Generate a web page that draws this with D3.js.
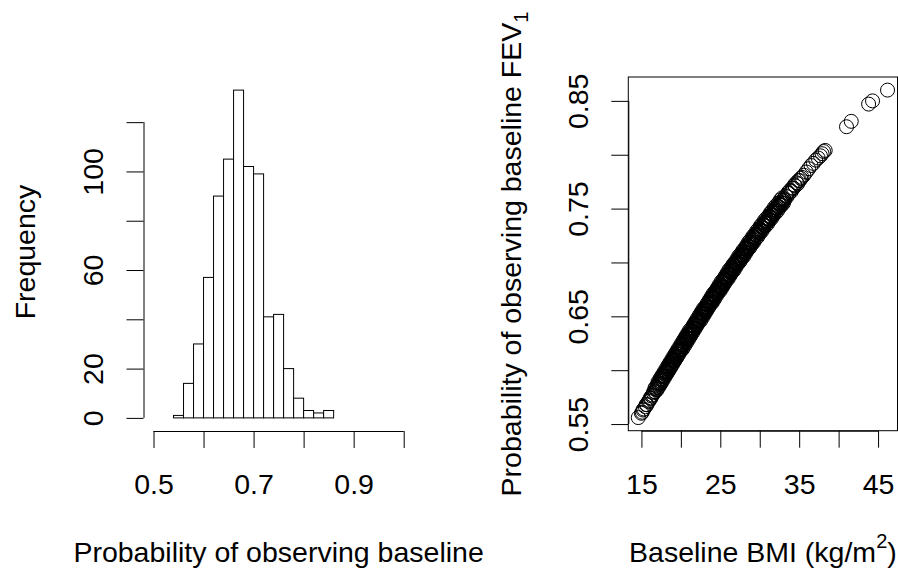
<!DOCTYPE html>
<html>
<head>
<meta charset="utf-8">
<script src="https://cdn.jsdelivr.net/npm/d3@7"></script>
<style>
  body { margin: 0; background: #fff; }
  text { font-family: "Liberation Sans", Arial, sans-serif; font-size: 28.5px; fill: #000; }
</style>
</head>
<body>
<div id="chart"></div>
<script>
// histogram of the probabilities
const histBreaks = [0.54, 0.56, 0.58, 0.60, 0.62, 0.64, 0.66, 0.68, 0.70, 0.72, 0.74, 0.76, 0.78, 0.80, 0.82, 0.84, 0.86];
const histCounts = [1, 14, 30, 57, 90, 105, 133, 102, 99, 41, 42, 20, 8, 3, 2, 3];
const probTicks = [0.5, 0.6, 0.7, 0.8, 0.9, 1.0];
const probLabels = [0.5, 0.7, 0.9];
const freqTicks = [0, 20, 40, 60, 80, 100, 120];
const freqLabels = [0, 20, 60, 100];

// scatter: baseline BMI vs probability
const bmiTicks = [15, 20, 25, 30, 35, 40, 45];
const bmiLabels = [15, 25, 35, 45];
const fevTicks = [0.55, 0.60, 0.65, 0.70, 0.75, 0.80, 0.85];
const fevLabels = [0.55, 0.65, 0.75, 0.85];
const bmiProb = [
  [14.6,.556],
  [15.0,.560],[15.1,.561],[15.2,.563],[15.3,.564],[15.5,.566],[15.6,.568],[15.7,.568],[15.9,.571],[16.0,.572],[16.1,.574],[16.2,.574],[16.3,.576],[16.4,.577],[16.5,.579],
  [16.6,.580],[16.7,.583],[16.75,.580],[16.8,.584],[16.9,.582],[17.0,.586],[17.05,.584],[17.1,.587],[17.2,.588],[17.3,.587],[17.35,.590],[17.4,.588],[17.5,.592],[17.6,.591],[17.65,.594],[17.7,.592],[17.8,.595],[17.9,.594],[18.0,.598],[18.05,.596],[18.1,.599],[18.2,.598],
  [18.3,.601],[18.35,.599],[18.4,.603],[18.45,.601],[18.5,.604],[18.6,.602],[18.65,.606],[18.7,.604],[18.8,.607],[18.85,.605],[18.9,.609],[19.0,.608],[19.05,.611],[19.1,.609],[19.2,.612],[19.25,.610],[19.3,.614],[19.4,.612],[19.45,.615],[19.5,.613],[19.6,.617],[19.65,.615],[19.7,.618],[19.8,.617],[19.85,.619],[19.9,.618],
  [19.95,.620],[20.0,.622],[20.05,.620],[20.1,.623],[20.2,.622],[20.25,.625],[20.3,.623],[20.35,.626],[20.4,.624],[20.5,.628],[20.55,.626],[20.6,.629],[20.65,.627],[20.7,.630],[20.8,.629],[20.85,.632],[20.9,.630],[20.95,.633],[21.0,.632],[21.1,.635],[21.15,.633],[21.2,.636],[21.3,.634],[21.35,.637],[21.4,.636],[21.5,.639],[21.55,.637],[21.6,.639],
  [21.7,.641],[21.75,.640],[21.8,.643],[21.9,.642],[21.95,.645],[22.0,.643],[22.1,.646],[22.15,.644],[22.2,.647],[22.3,.646],[22.35,.649],[22.4,.647],[22.5,.651],[22.55,.649],[22.6,.652],[22.65,.650],[22.7,.653],[22.8,.652],[22.85,.655],[22.9,.653],[23.0,.656],[23.05,.655],[23.1,.657],[23.15,.656],[23.2,.659],[23.3,.657],[23.35,.659],[23.4,.658],
  [23.45,.661],[23.5,.662],[23.55,.660],[23.6,.663],[23.7,.662],[23.75,.665],[23.8,.663],[23.85,.666],[23.9,.664],[24.0,.668],[24.05,.666],[24.1,.669],[24.15,.667],[24.2,.670],[24.3,.669],[24.35,.672],[24.4,.670],[24.45,.673],[24.5,.671],[24.6,.674],[24.65,.672],[24.7,.675],[24.75,.674],[24.8,.677],[24.9,.675],[24.95,.678],[25.0,.676],[25.05,.679],[25.1,.677],[25.2,.679],
  [25.3,.681],[25.35,.682],[25.4,.680],[25.5,.684],[25.55,.682],[25.6,.685],[25.7,.684],[25.75,.687],[25.8,.685],[25.9,.688],[25.95,.686],[26.0,.689],[26.1,.688],[26.15,.691],[26.2,.689],[26.3,.692],[26.35,.690],[26.4,.694],[26.5,.692],[26.55,.695],[26.6,.693],[26.7,.697],[26.75,.695],[26.8,.698],[26.85,.696],[26.9,.699],[27.0,.698],[27.05,.699],
  [27.1,.701],[27.2,.700],[27.25,.703],[27.3,.701],[27.4,.704],[27.5,.703],[27.55,.706],[27.6,.704],[27.7,.707],[27.8,.706],[27.85,.709],[27.9,.707],[28.0,.710],[28.1,.709],[28.15,.712],[28.2,.710],[28.3,.714],[28.35,.712],[28.4,.715],[28.5,.713],[28.6,.717],[28.65,.715],[28.7,.718],[28.8,.716],[28.85,.719],[28.9,.718],[28.95,.719],[29.0,.718],
  [29.1,.722],[29.2,.721],[29.3,.724],[29.4,.723],[29.5,.726],[29.6,.725],[29.7,.728],[29.75,.726],[29.85,.729],[29.95,.728],[30.05,.731],[30.15,.730],[30.25,.733],[30.35,.732],[30.45,.735],[30.55,.734],[30.6,.737],[30.7,.736],[30.8,.738],[30.85,.737],[30.95,.739],[31.0,.738],
  [31.1,.741],[31.2,.740],[31.3,.743],[31.4,.742],[31.5,.745],[31.6,.744],[31.7,.747],[31.8,.746],[31.9,.749],[32.0,.748],[32.1,.751],[32.2,.750],[32.3,.752],[32.4,.752],[32.5,.754],[32.6,.753],[32.7,.756],[32.8,.755],[32.9,.758],[33.0,.757],[33.05,.759],[33.15,.758],
  [33.3,.762],[33.45,.761],[33.6,.765],[33.7,.764],[33.85,.767],[34.0,.766],[34.1,.769],[34.25,.769],[34.4,.772],[34.5,.771],[34.65,.774],[34.8,.773],[34.9,.776],[35.05,.776],[35.2,.778],[35.35,.779],
  [35.6,.781],[35.9,.784],[36.2,.787],[36.5,.790],[36.8,.792],[37.1,.795],[37.4,.797],[37.7,.799],
  [37.9,.801],[38.1,.803],[38.3,.804],
  [41.0,.826],[41.6,.831],
  [43.8,.847],[44.3,.850],[46.2,.860],
  // upper edge of the band
  [17.1,.589],[17.35,.592],[17.6,.595],[17.85,.598],[18.1,.601],[18.35,.604],[18.6,.607],[18.85,.610],[19.1,.613],[19.35,.616],[19.6,.619],[19.85,.622],
  [20.1,.625],[20.35,.628],[20.6,.631],[20.85,.634],[21.1,.637],[21.35,.639],[21.6,.642],[21.85,.645],[22.1,.648],[22.35,.651],[22.6,.654],[22.85,.657],
  [23.1,.659],[23.35,.662],[23.6,.665],[23.85,.668],[24.1,.671],[24.35,.673],[24.6,.676],[24.85,.679],[25.1,.682],[25.35,.684],[25.6,.687],[25.85,.690],
  [26.1,.693],[26.35,.695],[26.6,.698],[26.85,.700],[27.1,.703],[27.35,.706],[27.6,.708],[27.85,.711],[28.1,.713],[28.35,.716],[28.6,.719],[28.85,.721],
  [29.1,.724],[29.35,.726],[29.6,.729],[29.85,.731],[30.1,.734],[30.35,.736],[30.6,.739],[30.85,.741],[31.1,.743],[31.35,.746],[31.6,.748],[31.85,.751],
  [32.1,.753],[32.35,.755],[32.6,.758],[32.85,.760],
  // lower edge of the band
  [17.0,.582],[17.25,.585],[17.5,.588],[17.75,.591],[18.0,.594],[18.25,.597],[18.5,.600],[18.75,.603],[19.0,.606],[19.25,.609],[19.5,.612],[19.75,.615],
  [20.0,.618],[20.25,.620],[20.5,.623],[20.75,.626],[21.0,.629],[21.25,.632],[21.5,.635],[21.75,.638],[22.0,.641],[22.25,.644],[22.5,.646],[22.75,.649],
  [23.0,.652],[23.25,.655],[23.5,.658],[23.75,.661],[24.0,.663],[24.25,.666],[24.5,.669],[24.75,.672],[25.0,.674],[25.25,.677],[25.5,.680],[25.75,.683],
  [26.0,.685],[26.25,.688],[26.5,.691],[26.75,.693],[27.0,.696],[27.25,.699],[27.5,.701],[27.75,.704],[28.0,.706],[28.25,.709],[28.5,.712],[28.75,.714],
  [29.0,.717],[29.25,.719],[29.5,.722],[29.75,.724],[30.0,.727],[30.25,.729],[30.5,.732],[30.75,.734],[31.0,.736],[31.25,.739],[31.5,.741],[31.75,.744],
  [32.0,.746],[32.25,.748],[32.5,.751],[32.75,.753],[33.0,.755]
];

const width = 898, height = 572;
const tickLen = 17;

// R style 4% padding on each side of the range
function rPad(ext) {
  const r = ext[1] - ext[0];
  return [ext[0] - 0.04 * r, ext[1] + 0.04 * r];
}

const svg = d3.select("#chart").append("svg")
  .attr("width", width).attr("height", height);

function bottomAxis(scale, ticks, labels, y) {
  const a = svg.append("g").attr("transform", `translate(0,${y})`)
    .call(d3.axisBottom(scale).tickValues(ticks).tickSize(tickLen)
      .tickFormat(d => labels.includes(d) ? String(d) : ""));
  a.select(".domain").remove();
  a.append("line")
    .attr("x1", scale(ticks[0])).attr("x2", scale(ticks[ticks.length - 1]))
    .attr("y1", 0.5).attr("y2", 0.5).attr("stroke", "#000");
  a.selectAll(".tick text").attr("y", 63).attr("dy", null);
  return a;
}

function leftAxis(scale, ticks, labels, x) {
  const a = svg.append("g").attr("transform", `translate(${x},0)`)
    .call(d3.axisLeft(scale).tickValues(ticks).tickSize(tickLen)
      .tickFormat(d => labels.includes(d) ? String(d) : ""));
  a.select(".domain").remove();
  a.append("line")
    .attr("y1", scale(ticks[0])).attr("y2", scale(ticks[ticks.length - 1]))
    .attr("x1", 0.5).attr("x2", 0.5).attr("stroke", "#000");
  a.selectAll(".tick text")
    .attr("x", null).attr("dy", null)
    .attr("text-anchor", "middle")
    .attr("transform", "translate(-40.2,0) rotate(-90)");
  return a;
}

// ---- left panel: histogram ----
const xHist = d3.scaleLinear().domain(rPad(d3.extent(probTicks))).range([143.5, 413.7]);
const yHist = d3.scaleLinear().domain(rPad([0, d3.max(histCounts)])).range([431, 77]);

svg.append("g").selectAll("rect")
  .data(histCounts)
  .join("rect")
  .attr("x", (d, i) => xHist(histBreaks[i]))
  .attr("width", (d, i) => xHist(histBreaks[i + 1]) - xHist(histBreaks[i]))
  .attr("y", d => yHist(d))
  .attr("height", d => yHist(0) - yHist(d))
  .attr("fill", "#fff")
  .attr("stroke", "#000")
  .attr("stroke-width", 1);

bottomAxis(xHist, probTicks, probLabels, 431);
leftAxis(yHist, freqTicks, freqLabels, 143.5);

svg.append("text")
  .attr("x", (143.5 + 413.7) / 2).attr("y", 562)
  .attr("text-anchor", "middle")
  .text("Probability of observing baseline");

svg.append("text")
  .attr("transform", "translate(35,252) rotate(-90)")
  .attr("text-anchor", "middle")
  .text("Frequency");

// ---- right panel: scatter ----
const xBmi = d3.scaleLinear().domain(rPad(d3.extent(bmiProb, d => d[0]))).range([628.3, 897.5]);
const yFev = d3.scaleLinear().domain(rPad(d3.extent(bmiProb, d => d[1]))).range([430.7, 77]);

svg.append("rect")
  .attr("x", 628.3).attr("y", 77)
  .attr("width", 897.5 - 628.3).attr("height", 430.7 - 77)
  .attr("fill", "none").attr("stroke", "#000");

svg.append("g").selectAll("circle")
  .data(bmiProb)
  .join("circle")
  .attr("cx", d => xBmi(d[0]))
  .attr("cy", d => yFev(d[1]))
  .attr("r", 7)
  .attr("fill", "none")
  .attr("stroke", "#000")
  .attr("stroke-width", 1);

bottomAxis(xBmi, bmiTicks, bmiLabels, 430.7);
leftAxis(yFev, fevTicks, fevLabels, 628.3);

const xt = svg.append("text")
  .attr("x", (628.3 + 897.5) / 2).attr("y", 562)
  .attr("text-anchor", "middle");
xt.append("tspan").text("Baseline BMI (kg/m");
xt.append("tspan").attr("dy", -14).style("font-size", "20px").text("2");
xt.append("tspan").attr("dy", 14).text(")");

const yt = svg.append("text")
  .attr("transform", "translate(521,254) rotate(-90)")
  .attr("text-anchor", "middle");
yt.append("tspan").text("Probability of observing baseline FEV");
yt.append("tspan").attr("dy", 7).style("font-size", "20px").text("1");
</script>
</body>
</html>
